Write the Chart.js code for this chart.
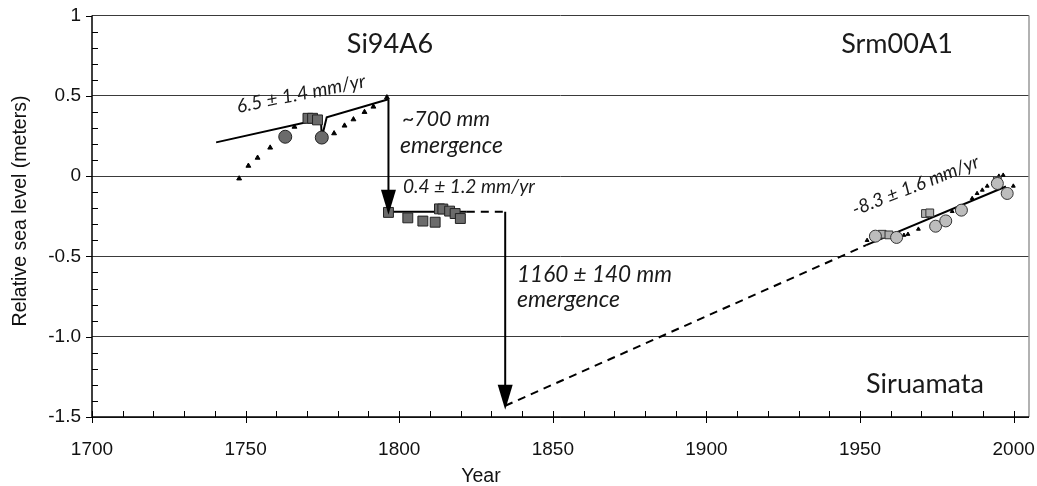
<!DOCTYPE html>
<html>
<head>
<meta charset="utf-8">
<script src="https://cdn.jsdelivr.net/npm/chart.js@4/dist/chart.umd.min.js"></script>
<style>
  html, body { margin: 0; padding: 0; background: #fff; }
  #wrap { width: 1037px; height: 486px; }
</style>
</head>
<body>
<div id="wrap"><canvas id="c"></canvas></div>
<script>
// Si94A6 (left) and Srm00A1 (right) data
const xTickValues = [1700, 1750, 1800, 1850, 1900, 1950, 2000];
const yTickValues = [1, 0.5, 0, -0.5, -1, -1.5];
const yTickLabels = ["1", "0.5", "0", "-0.5", "-1.0", "-1.5"];

const upperFit = [[1740.4, 0.21], [1774.5, 0.355], [1774.8, 0.24], [1776.4, 0.366], [1796.5, 0.478]];
const lowerFit = [[1796.5, -0.222], [1822, -0.222]];
const lowerDash = [[1822, -0.222], [1834.5, -0.222]];
const arrow1 = [[1796.5, 0.478], [1796.5, -0.215]];
const arrow2 = [[1834.5, -0.222], [1834.5, -1.43]];
const extrapDash = [[1834.5, -1.43], [1952, -0.43]];
const rightFit = [[1952, -0.43], [1997.5, -0.065]];

const leftTriangles = [[1747.9, -0.015], [1750.9, 0.064], [1753.9, 0.114], [1758.0, 0.177], [1762.1, 0.235],
  [1765.9, 0.307], [1778.8, 0.266], [1782.2, 0.314], [1785.1, 0.353], [1788.7, 0.399], [1791.6, 0.432], [1796.0, 0.49]];
const rightTriangles = [[1952.3, -0.40], [1956, -0.38], [1964.3, -0.368], [1965.6, -0.362], [1969, -0.33], [1980, -0.22],
  [1986.5, -0.139], [1988.1, -0.108], [1989.8, -0.087], [1991.4, -0.062], [1993.6, -0.029], [1995.2, 0.0],
  [1996.6, 0.006], [1999.9, -0.062]];
const leftSquaresUpper = [[1770.3, 0.36], [1771.8, 0.36], [1773.4, 0.35]];
const leftSquaresLower = [[1796.5, -0.226], [1802.8, -0.26], [1807.7, -0.28], [1811.7, -0.287], [1813.1, -0.204],
  [1814.2, -0.205], [1816.4, -0.218], [1818.2, -0.233], [1819.9, -0.264]];
const leftCircles = [[1762.9, 0.245], [1774.8, 0.24]];
const rightCircles = [[1955.0, -0.374], [1961.9, -0.382], [1974.6, -0.312], [1977.9, -0.279], [1983.0, -0.212],
  [1994.7, -0.046], [1997.9, -0.108]];
const rightSquares = [[1957.2, -0.362], [1959.4, -0.366], [1971.3, -0.233], [1972.7, -0.229], [1994.7, -0.029]];

const pts = arr => arr.map(p => ({ x: p[0], y: p[1] }));
const AXIS_FONT = "'Liberation Sans', Arial, sans-serif";

function lineSet(data, dashed) {
  return {
    data: pts(data), showLine: true, borderColor: "#000", borderWidth: 2,
    borderDash: dashed ? [8, 6] : [], pointRadius: 0, order: 5
  };
}

function markerSet(data, style, r, fill, stroke) {
  return {
    data: pts(data), showLine: false, pointStyle: style, pointRadius: r,
    backgroundColor: fill, borderColor: stroke, borderWidth: 1, order: 1
  };
}

// writes text scaled so it spans the given width
function fitText(ctx, text, x, y, w, italic) {
  const font = s => (italic ? "italic " : "") + s + "px Lato, 'Liberation Sans', sans-serif";
  ctx.font = font(20);
  const size = 20 * w / ctx.measureText(text).width;
  ctx.font = font(size);
  ctx.fillText(text, x, y);
}

// draws the figure's annotations, tick marks and arrow heads
const extras = {
  id: "extras",
  afterDatasetsDraw(chart) {
    const ctx = chart.ctx, a = chart.chartArea;
    const xs = chart.scales.x, ys = chart.scales.y;
    ctx.save();
    // right border
    ctx.strokeStyle = "#999";
    ctx.lineWidth = 1.5;
    ctx.beginPath(); ctx.moveTo(a.right, a.top); ctx.lineTo(a.right, a.bottom); ctx.stroke();
    // axes
    ctx.strokeStyle = "#000";
    ctx.lineWidth = 1.5;
    ctx.beginPath(); ctx.moveTo(a.left, a.top); ctx.lineTo(a.left, a.bottom); ctx.lineTo(a.right, a.bottom); ctx.stroke();
    ctx.lineWidth = 1;
    for (let v = 1700; v <= 2000; v += 10) {
      const px = Math.round(xs.getPixelForValue(v)) + 0.5;
      ctx.beginPath();
      if (v % 50 === 0) { ctx.moveTo(px, a.bottom - 6); ctx.lineTo(px, a.bottom + 6); }
      else { ctx.moveTo(px, a.bottom - 6); ctx.lineTo(px, a.bottom); }
      ctx.stroke();
    }
    for (let i = 0; i <= 25; i++) {
      const v = -1.5 + i * 0.1;
      const py = Math.round(ys.getPixelForValue(v)) + 0.5;
      ctx.beginPath();
      if (i % 5 === 0) { ctx.moveTo(a.left - 6, py); ctx.lineTo(a.left, py); }
      else { ctx.moveTo(a.left, py); ctx.lineTo(a.left + 6, py); }
      ctx.stroke();
    }
    // arrow heads
    [arrow1, arrow2].forEach(arr => {
      const end = arr[arr.length - 1];
      const px = xs.getPixelForValue(end[0]), py = ys.getPixelForValue(end[1]);
      ctx.fillStyle = "#000";
      ctx.beginPath();
      ctx.moveTo(px, py + 4);
      ctx.lineTo(px - 7.5, py - 21);
      ctx.lineTo(px + 7.5, py - 21);
      ctx.closePath();
      ctx.fill();
    });
    // texts
    ctx.fillStyle = "#1a1a1a";
    ctx.textBaseline = "alphabetic";
    ctx.textAlign = "center";
    ctx.font = "27px Lato, 'Liberation Sans', sans-serif";
    ctx.fillText("Si94A6", 390, 53);
    ctx.fillText("Srm00A1", 897, 53);
    ctx.fillText("Siruamata", 925, 393);
    ctx.textAlign = "left";
    fitText(ctx, "~700 mm", 402, 126, 88, true);
    fitText(ctx, "emergence", 400, 153, 103, true);
    fitText(ctx, "0.4 \u00b1 1.2 mm/yr", 403, 193, 132, true);
    fitText(ctx, "1160 \u00b1 140 mm", 517, 282, 155, true);
    fitText(ctx, "emergence", 517, 307, 103, true);
    ctx.save();
    ctx.translate(238, 113);
    ctx.rotate(-11.5 * Math.PI / 180);
    fitText(ctx, "6.5 \u00b1 1.4 mm/yr", 0, 0, 131, true);
    ctx.restore();
    ctx.save();
    ctx.translate(855, 216);
    ctx.rotate(-21.5 * Math.PI / 180);
    fitText(ctx, "-8.3 \u00b1 1.6 mm/yr", 0, 0, 135, true);
    ctx.restore();
    // axis titles
    ctx.fillStyle = "#111";
    ctx.textAlign = "center";
    ctx.font = "19.5px " + AXIS_FONT;
    ctx.fillText("Year", 481, 482);
    ctx.save();
    ctx.translate(26, 211);
    ctx.rotate(-Math.PI / 2);
    ctx.fillText("Relative sea level (meters)", 0, 0);
    ctx.restore();
    ctx.restore();
  }
};

new Chart(document.getElementById("c"), {
  type: "scatter",
  data: {
    datasets: [
      markerSet(leftSquaresUpper, "rect", 7, "#6b6b6b", "#222"),
      markerSet(leftSquaresLower, "rect", 7, "#6b6b6b", "#222"),
      markerSet(leftCircles, "circle", 6.5, "#6b6b6b", "#222"),
      markerSet(rightCircles, "circle", 6, "#bdbdbd", "#333"),
      markerSet(rightSquares, "rect", 5.5, "#b0b0b0", "#333"),
      markerSet(leftTriangles, "triangle", 2.8, "#000", "#000"),
      markerSet(rightTriangles, "triangle", 2.2, "#000", "#000"),
      lineSet(upperFit, false),
      lineSet(lowerFit, false),
      lineSet(lowerDash, true),
      lineSet(arrow1, false),
      lineSet(arrow2, false),
      lineSet(extrapDash, true),
      lineSet(rightFit, false)
    ]
  },
  options: {
    responsive: true,
    maintainAspectRatio: false,
    animation: false,
    layout: { padding: { top: 15.5, right: 8, left: 0, bottom: 0 } },
    plugins: { legend: { display: false }, tooltip: { enabled: false } },
    scales: {
      x: {
        type: "linear", min: 1700, max: 2005,
        afterBuildTicks: s => { s.ticks = xTickValues.map(v => ({ value: v })); },
        afterFit: s => { s.height = 69; s.paddingLeft = 0; s.paddingRight = 0; },
        grid: { display: false, drawTicks: false },
        border: { display: false },
        ticks: {
          padding: 21, color: "#111", font: { family: AXIS_FONT, size: 19 }, maxRotation: 0,
          callback: v => String(v)
        }
      },
      y: {
        type: "linear", min: -1.5, max: 1,
        afterBuildTicks: s => { s.ticks = yTickValues.map(v => ({ value: v })); },
        afterFit: s => { s.width = 92; s.paddingTop = 0; s.paddingBottom = 0; },
        grid: { color: "#3a3a3a", lineWidth: 1, drawTicks: false },
        border: { display: false },
        ticks: {
          padding: 11, color: "#111", font: { family: AXIS_FONT, size: 19 },
          callback: v => yTickLabels[yTickValues.indexOf(v)]
        }
      }
    }
  },
  plugins: [extras]
});
</script>
</body>
</html>
